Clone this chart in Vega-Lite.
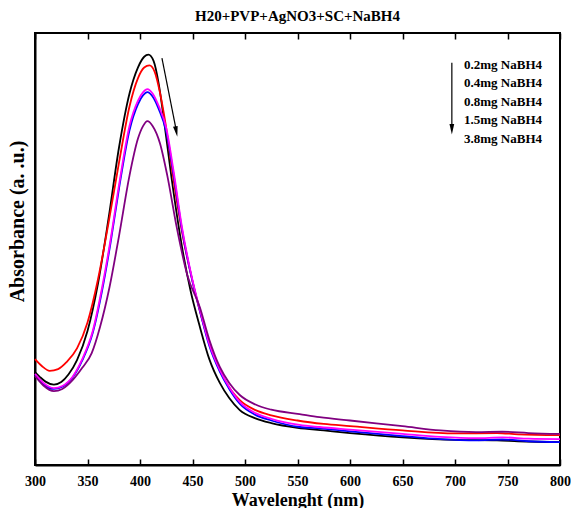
{
  "$schema": "https://vega.github.io/schema/vega-lite/v6.json",
  "autosize": "none",
  "width": 525,
  "height": 432,
  "padding": {"left": 35, "top": 33, "right": 11, "bottom": 43},
  "background": "white",
  "title": {"text": "H20+PVP+AgNO3+SC+NaBH4", "font": "Liberation Serif", "fontSize": 15, "fontWeight": "bold", "color": "black", "anchor": "middle", "offset": 9},
  "config": {
    "font": "Liberation Serif",
    "view": {"stroke": "black", "strokeWidth": 2},
    "axis": {
      "labelFont": "Liberation Serif", "labelFontWeight": "bold", "labelFontSize": 14, "labelColor": "black",
      "titleFont": "Liberation Serif", "titleFontWeight": "bold", "titleFontSize": 18, "titleColor": "black",
      "domainColor": "black", "domainWidth": 2
    }
  },
  "datasets": {
    "spectra": [
      {"Sample": "0.2mg NaBH4", "Wavelength": 300, "A": 0.215},
      {"Sample": "0.2mg NaBH4", "Wavelength": 305, "A": 0.203},
      {"Sample": "0.2mg NaBH4", "Wavelength": 310, "A": 0.193},
      {"Sample": "0.2mg NaBH4", "Wavelength": 318, "A": 0.186},
      {"Sample": "0.2mg NaBH4", "Wavelength": 325, "A": 0.192},
      {"Sample": "0.2mg NaBH4", "Wavelength": 332, "A": 0.210},
      {"Sample": "0.2mg NaBH4", "Wavelength": 340, "A": 0.243},
      {"Sample": "0.2mg NaBH4", "Wavelength": 350, "A": 0.310},
      {"Sample": "0.2mg NaBH4", "Wavelength": 360, "A": 0.420},
      {"Sample": "0.2mg NaBH4", "Wavelength": 370, "A": 0.570},
      {"Sample": "0.2mg NaBH4", "Wavelength": 380, "A": 0.735},
      {"Sample": "0.2mg NaBH4", "Wavelength": 390, "A": 0.860},
      {"Sample": "0.2mg NaBH4", "Wavelength": 398, "A": 0.920},
      {"Sample": "0.2mg NaBH4", "Wavelength": 404, "A": 0.945},
      {"Sample": "0.2mg NaBH4", "Wavelength": 408, "A": 0.950},
      {"Sample": "0.2mg NaBH4", "Wavelength": 413, "A": 0.935},
      {"Sample": "0.2mg NaBH4", "Wavelength": 418, "A": 0.880},
      {"Sample": "0.2mg NaBH4", "Wavelength": 423, "A": 0.795},
      {"Sample": "0.2mg NaBH4", "Wavelength": 430, "A": 0.665},
      {"Sample": "0.2mg NaBH4", "Wavelength": 440, "A": 0.505},
      {"Sample": "0.2mg NaBH4", "Wavelength": 448, "A": 0.405},
      {"Sample": "0.2mg NaBH4", "Wavelength": 457, "A": 0.320},
      {"Sample": "0.2mg NaBH4", "Wavelength": 466, "A": 0.245},
      {"Sample": "0.2mg NaBH4", "Wavelength": 476, "A": 0.190},
      {"Sample": "0.2mg NaBH4", "Wavelength": 485, "A": 0.155},
      {"Sample": "0.2mg NaBH4", "Wavelength": 495, "A": 0.127},
      {"Sample": "0.2mg NaBH4", "Wavelength": 510, "A": 0.108},
      {"Sample": "0.2mg NaBH4", "Wavelength": 525, "A": 0.097},
      {"Sample": "0.2mg NaBH4", "Wavelength": 550, "A": 0.086},
      {"Sample": "0.2mg NaBH4", "Wavelength": 575, "A": 0.080},
      {"Sample": "0.2mg NaBH4", "Wavelength": 600, "A": 0.074},
      {"Sample": "0.2mg NaBH4", "Wavelength": 650, "A": 0.064},
      {"Sample": "0.2mg NaBH4", "Wavelength": 700, "A": 0.058},
      {"Sample": "0.2mg NaBH4", "Wavelength": 740, "A": 0.057},
      {"Sample": "0.2mg NaBH4", "Wavelength": 760, "A": 0.055},
      {"Sample": "0.2mg NaBH4", "Wavelength": 800, "A": 0.053},

      {"Sample": "0.4mg NaBH4", "Wavelength": 300, "A": 0.245},
      {"Sample": "0.4mg NaBH4", "Wavelength": 307, "A": 0.228},
      {"Sample": "0.4mg NaBH4", "Wavelength": 314, "A": 0.218},
      {"Sample": "0.4mg NaBH4", "Wavelength": 322, "A": 0.222},
      {"Sample": "0.4mg NaBH4", "Wavelength": 330, "A": 0.238},
      {"Sample": "0.4mg NaBH4", "Wavelength": 340, "A": 0.270},
      {"Sample": "0.4mg NaBH4", "Wavelength": 350, "A": 0.330},
      {"Sample": "0.4mg NaBH4", "Wavelength": 360, "A": 0.430},
      {"Sample": "0.4mg NaBH4", "Wavelength": 370, "A": 0.560},
      {"Sample": "0.4mg NaBH4", "Wavelength": 380, "A": 0.700},
      {"Sample": "0.4mg NaBH4", "Wavelength": 390, "A": 0.830},
      {"Sample": "0.4mg NaBH4", "Wavelength": 398, "A": 0.895},
      {"Sample": "0.4mg NaBH4", "Wavelength": 404, "A": 0.920},
      {"Sample": "0.4mg NaBH4", "Wavelength": 409, "A": 0.925},
      {"Sample": "0.4mg NaBH4", "Wavelength": 414, "A": 0.910},
      {"Sample": "0.4mg NaBH4", "Wavelength": 419, "A": 0.862},
      {"Sample": "0.4mg NaBH4", "Wavelength": 424, "A": 0.795},
      {"Sample": "0.4mg NaBH4", "Wavelength": 431, "A": 0.675},
      {"Sample": "0.4mg NaBH4", "Wavelength": 440, "A": 0.540},
      {"Sample": "0.4mg NaBH4", "Wavelength": 450, "A": 0.425},
      {"Sample": "0.4mg NaBH4", "Wavelength": 460, "A": 0.330},
      {"Sample": "0.4mg NaBH4", "Wavelength": 470, "A": 0.255},
      {"Sample": "0.4mg NaBH4", "Wavelength": 480, "A": 0.200},
      {"Sample": "0.4mg NaBH4", "Wavelength": 495, "A": 0.150},
      {"Sample": "0.4mg NaBH4", "Wavelength": 510, "A": 0.127},
      {"Sample": "0.4mg NaBH4", "Wavelength": 525, "A": 0.115},
      {"Sample": "0.4mg NaBH4", "Wavelength": 550, "A": 0.103},
      {"Sample": "0.4mg NaBH4", "Wavelength": 575, "A": 0.095},
      {"Sample": "0.4mg NaBH4", "Wavelength": 600, "A": 0.090},
      {"Sample": "0.4mg NaBH4", "Wavelength": 650, "A": 0.080},
      {"Sample": "0.4mg NaBH4", "Wavelength": 700, "A": 0.073},
      {"Sample": "0.4mg NaBH4", "Wavelength": 740, "A": 0.074},
      {"Sample": "0.4mg NaBH4", "Wavelength": 760, "A": 0.071},
      {"Sample": "0.4mg NaBH4", "Wavelength": 800, "A": 0.069},

      {"Sample": "1.5mg NaBH4", "Wavelength": 300, "A": 0.208},
      {"Sample": "1.5mg NaBH4", "Wavelength": 308, "A": 0.187},
      {"Sample": "1.5mg NaBH4", "Wavelength": 318, "A": 0.176},
      {"Sample": "1.5mg NaBH4", "Wavelength": 326, "A": 0.181},
      {"Sample": "1.5mg NaBH4", "Wavelength": 336, "A": 0.203},
      {"Sample": "1.5mg NaBH4", "Wavelength": 345, "A": 0.242},
      {"Sample": "1.5mg NaBH4", "Wavelength": 355, "A": 0.306},
      {"Sample": "1.5mg NaBH4", "Wavelength": 364, "A": 0.405},
      {"Sample": "1.5mg NaBH4", "Wavelength": 372, "A": 0.515},
      {"Sample": "1.5mg NaBH4", "Wavelength": 380, "A": 0.640},
      {"Sample": "1.5mg NaBH4", "Wavelength": 390, "A": 0.775},
      {"Sample": "1.5mg NaBH4", "Wavelength": 398, "A": 0.835},
      {"Sample": "1.5mg NaBH4", "Wavelength": 403, "A": 0.856},
      {"Sample": "1.5mg NaBH4", "Wavelength": 407, "A": 0.863},
      {"Sample": "1.5mg NaBH4", "Wavelength": 412, "A": 0.853},
      {"Sample": "1.5mg NaBH4", "Wavelength": 418, "A": 0.823},
      {"Sample": "1.5mg NaBH4", "Wavelength": 425, "A": 0.772},
      {"Sample": "1.5mg NaBH4", "Wavelength": 432, "A": 0.672},
      {"Sample": "1.5mg NaBH4", "Wavelength": 440, "A": 0.545},
      {"Sample": "1.5mg NaBH4", "Wavelength": 450, "A": 0.425},
      {"Sample": "1.5mg NaBH4", "Wavelength": 457, "A": 0.357},
      {"Sample": "1.5mg NaBH4", "Wavelength": 466, "A": 0.276},
      {"Sample": "1.5mg NaBH4", "Wavelength": 476, "A": 0.216},
      {"Sample": "1.5mg NaBH4", "Wavelength": 485, "A": 0.176},
      {"Sample": "1.5mg NaBH4", "Wavelength": 495, "A": 0.142},
      {"Sample": "1.5mg NaBH4", "Wavelength": 510, "A": 0.116},
      {"Sample": "1.5mg NaBH4", "Wavelength": 525, "A": 0.103},
      {"Sample": "1.5mg NaBH4", "Wavelength": 552, "A": 0.088},
      {"Sample": "1.5mg NaBH4", "Wavelength": 571, "A": 0.085},
      {"Sample": "1.5mg NaBH4", "Wavelength": 600, "A": 0.078},
      {"Sample": "1.5mg NaBH4", "Wavelength": 650, "A": 0.067},
      {"Sample": "1.5mg NaBH4", "Wavelength": 686, "A": 0.060},
      {"Sample": "1.5mg NaBH4", "Wavelength": 720, "A": 0.057},
      {"Sample": "1.5mg NaBH4", "Wavelength": 745, "A": 0.059},
      {"Sample": "1.5mg NaBH4", "Wavelength": 770, "A": 0.055},
      {"Sample": "1.5mg NaBH4", "Wavelength": 800, "A": 0.053},

      {"Sample": "0.8mg NaBH4", "Wavelength": 300, "A": 0.211},
      {"Sample": "0.8mg NaBH4", "Wavelength": 308, "A": 0.190},
      {"Sample": "0.8mg NaBH4", "Wavelength": 318, "A": 0.178},
      {"Sample": "0.8mg NaBH4", "Wavelength": 326, "A": 0.183},
      {"Sample": "0.8mg NaBH4", "Wavelength": 336, "A": 0.205},
      {"Sample": "0.8mg NaBH4", "Wavelength": 345, "A": 0.245},
      {"Sample": "0.8mg NaBH4", "Wavelength": 355, "A": 0.310},
      {"Sample": "0.8mg NaBH4", "Wavelength": 364, "A": 0.412},
      {"Sample": "0.8mg NaBH4", "Wavelength": 372, "A": 0.522},
      {"Sample": "0.8mg NaBH4", "Wavelength": 380, "A": 0.648},
      {"Sample": "0.8mg NaBH4", "Wavelength": 390, "A": 0.785},
      {"Sample": "0.8mg NaBH4", "Wavelength": 398, "A": 0.843},
      {"Sample": "0.8mg NaBH4", "Wavelength": 403, "A": 0.863},
      {"Sample": "0.8mg NaBH4", "Wavelength": 407, "A": 0.870},
      {"Sample": "0.8mg NaBH4", "Wavelength": 412, "A": 0.860},
      {"Sample": "0.8mg NaBH4", "Wavelength": 418, "A": 0.830},
      {"Sample": "0.8mg NaBH4", "Wavelength": 425, "A": 0.780},
      {"Sample": "0.8mg NaBH4", "Wavelength": 432, "A": 0.680},
      {"Sample": "0.8mg NaBH4", "Wavelength": 440, "A": 0.550},
      {"Sample": "0.8mg NaBH4", "Wavelength": 450, "A": 0.428},
      {"Sample": "0.8mg NaBH4", "Wavelength": 457, "A": 0.360},
      {"Sample": "0.8mg NaBH4", "Wavelength": 466, "A": 0.280},
      {"Sample": "0.8mg NaBH4", "Wavelength": 476, "A": 0.220},
      {"Sample": "0.8mg NaBH4", "Wavelength": 485, "A": 0.180},
      {"Sample": "0.8mg NaBH4", "Wavelength": 495, "A": 0.146},
      {"Sample": "0.8mg NaBH4", "Wavelength": 510, "A": 0.120},
      {"Sample": "0.8mg NaBH4", "Wavelength": 525, "A": 0.107},
      {"Sample": "0.8mg NaBH4", "Wavelength": 552, "A": 0.093},
      {"Sample": "0.8mg NaBH4", "Wavelength": 571, "A": 0.088},
      {"Sample": "0.8mg NaBH4", "Wavelength": 600, "A": 0.082},
      {"Sample": "0.8mg NaBH4", "Wavelength": 650, "A": 0.072},
      {"Sample": "0.8mg NaBH4", "Wavelength": 686, "A": 0.065},
      {"Sample": "0.8mg NaBH4", "Wavelength": 720, "A": 0.062},
      {"Sample": "0.8mg NaBH4", "Wavelength": 745, "A": 0.064},
      {"Sample": "0.8mg NaBH4", "Wavelength": 770, "A": 0.061},
      {"Sample": "0.8mg NaBH4", "Wavelength": 800, "A": 0.060},

      {"Sample": "3.8mg NaBH4", "Wavelength": 300, "A": 0.206},
      {"Sample": "3.8mg NaBH4", "Wavelength": 308, "A": 0.184},
      {"Sample": "3.8mg NaBH4", "Wavelength": 318, "A": 0.171},
      {"Sample": "3.8mg NaBH4", "Wavelength": 326, "A": 0.176},
      {"Sample": "3.8mg NaBH4", "Wavelength": 336, "A": 0.197},
      {"Sample": "3.8mg NaBH4", "Wavelength": 345, "A": 0.225},
      {"Sample": "3.8mg NaBH4", "Wavelength": 354, "A": 0.259},
      {"Sample": "3.8mg NaBH4", "Wavelength": 362, "A": 0.320},
      {"Sample": "3.8mg NaBH4", "Wavelength": 371, "A": 0.412},
      {"Sample": "3.8mg NaBH4", "Wavelength": 380, "A": 0.530},
      {"Sample": "3.8mg NaBH4", "Wavelength": 390, "A": 0.670},
      {"Sample": "3.8mg NaBH4", "Wavelength": 398, "A": 0.755},
      {"Sample": "3.8mg NaBH4", "Wavelength": 403, "A": 0.785},
      {"Sample": "3.8mg NaBH4", "Wavelength": 407, "A": 0.796},
      {"Sample": "3.8mg NaBH4", "Wavelength": 412, "A": 0.785},
      {"Sample": "3.8mg NaBH4", "Wavelength": 419, "A": 0.745},
      {"Sample": "3.8mg NaBH4", "Wavelength": 426, "A": 0.670},
      {"Sample": "3.8mg NaBH4", "Wavelength": 435, "A": 0.550},
      {"Sample": "3.8mg NaBH4", "Wavelength": 445, "A": 0.440},
      {"Sample": "3.8mg NaBH4", "Wavelength": 457, "A": 0.365},
      {"Sample": "3.8mg NaBH4", "Wavelength": 466, "A": 0.290},
      {"Sample": "3.8mg NaBH4", "Wavelength": 476, "A": 0.227},
      {"Sample": "3.8mg NaBH4", "Wavelength": 485, "A": 0.190},
      {"Sample": "3.8mg NaBH4", "Wavelength": 495, "A": 0.162},
      {"Sample": "3.8mg NaBH4", "Wavelength": 510, "A": 0.140},
      {"Sample": "3.8mg NaBH4", "Wavelength": 525, "A": 0.128},
      {"Sample": "3.8mg NaBH4", "Wavelength": 552, "A": 0.118},
      {"Sample": "3.8mg NaBH4", "Wavelength": 571, "A": 0.111},
      {"Sample": "3.8mg NaBH4", "Wavelength": 600, "A": 0.103},
      {"Sample": "3.8mg NaBH4", "Wavelength": 650, "A": 0.090},
      {"Sample": "3.8mg NaBH4", "Wavelength": 686, "A": 0.080},
      {"Sample": "3.8mg NaBH4", "Wavelength": 720, "A": 0.076},
      {"Sample": "3.8mg NaBH4", "Wavelength": 745, "A": 0.077},
      {"Sample": "3.8mg NaBH4", "Wavelength": 770, "A": 0.074},
      {"Sample": "3.8mg NaBH4", "Wavelength": 800, "A": 0.072}
    ],
    "arrows": [
      {"Wavelength": 420.9, "A": 0.942, "Wavelength2": 434.5, "A2": 0.775},
      {"Wavelength": 697, "A": 0.931, "Wavelength2": 697, "A2": 0.778}
    ],
    "head1": [{"Wavelength": 434.6, "A": 0.772}],
    "head2": [{"Wavelength": 697, "A": 0.777}]
  },
  "layer": [
    {
      "data": {"name": "spectra"},
      "mark": {"type": "line", "strokeWidth": 1.8, "interpolate": "monotone"},
      "encoding": {
        "x": {
          "field": "Wavelength", "type": "quantitative",
          "scale": {"domain": [300, 800], "nice": false, "zero": false},
          "axis": {
            "orient": "bottom", "title": "Wavelenght (nm)",
            "values": [300, 325, 350, 375, 400, 425, 450, 475, 500, 525, 550, 575, 600, 625, 650, 675, 700, 725, 750, 775, 800],
            "labelExpr": "datum.value % 50 === 0 ? datum.label : ''",
            "ticks": false, "labelPadding": 9, "titlePadding": 3, "labelOverlap": false, "labelFlush": false,
            "grid": true, "gridColor": "black", "gridWidth": 1.5, "gridOpacity": 1,
            "gridDash": {"condition": {"test": "datum.value % 50 === 0", "value": [6, 420, 6, 1000]}, "value": [3, 426, 3, 1000]}
          }
        },
        "y": {
          "field": "A", "type": "quantitative", "title": "Absorbance (a. .u.)",
          "scale": {"domain": [0, 1], "nice": false},
          "axis": {"labels": false, "ticks": false, "grid": false, "titleFontSize": 20, "titleX": -18, "titleY": 188, "titleAngle": -90, "titleAlign": "center", "titleBaseline": "middle"}
        },
        "color": {
          "field": "Sample", "type": "nominal",
          "scale": {
            "domain": ["0.2mg NaBH4", "0.4mg NaBH4", "0.8mg NaBH4", "1.5mg NaBH4", "3.8mg NaBH4"],
            "range": ["#000000", "#ff0000", "#ff00ff", "#0000ff", "#800080"]
          },
          "legend": {
            "orient": "none", "legendX": 416, "legendY": 25, "title": null,
            "symbolSize": 0, "symbolStrokeWidth": 0, "symbolOpacity": 0, "labelOffset": 0,
            "labelFont": "Liberation Serif", "labelFontSize": 13, "labelFontWeight": "bold", "labelColor": "black",
            "rowPadding": 4.6
          }
        }
      }
    },
    {
      "data": {"name": "arrows"},
      "mark": {"type": "rule", "color": "black", "strokeWidth": 1.2},
      "encoding": {
        "x": {"field": "Wavelength", "type": "quantitative"},
        "x2": {"field": "Wavelength2"},
        "y": {"field": "A", "type": "quantitative"},
        "y2": {"field": "A2"}
      }
    },
    {
      "data": {"name": "head1"},
      "mark": {"type": "point", "shape": "M-0.45,-1L0.45,-1L0,1Z", "filled": true, "color": "black", "opacity": 1, "size": 110, "angle": -11},
      "encoding": {
        "x": {"field": "Wavelength", "type": "quantitative"},
        "y": {"field": "A", "type": "quantitative"}
      }
    },
    {
      "data": {"name": "head2"},
      "mark": {"type": "point", "shape": "M-0.45,-1L0.45,-1L0,1Z", "filled": true, "color": "black", "opacity": 1, "size": 110},
      "encoding": {
        "x": {"field": "Wavelength", "type": "quantitative"},
        "y": {"field": "A", "type": "quantitative"}
      }
    }
  ]
}
